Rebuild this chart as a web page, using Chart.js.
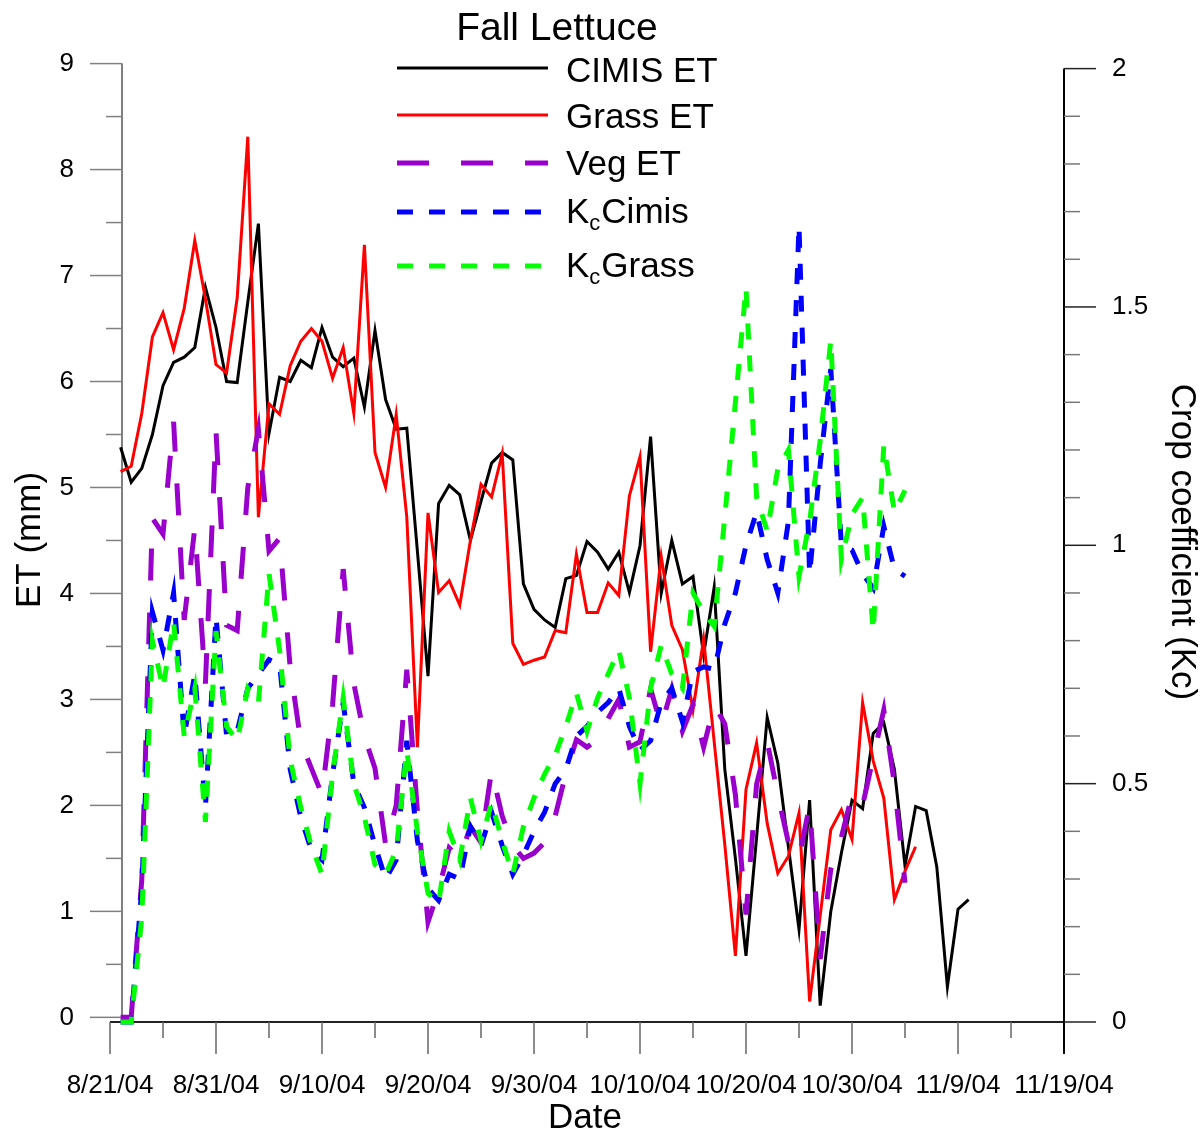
<!DOCTYPE html>
<html><head><meta charset="utf-8">
<script src="https://cdn.jsdelivr.net/npm/chart.js@4.4.1/dist/chart.umd.min.js"></script>
<style>html,body{margin:0;padding:0;background:#fff;}canvas{display:block;}</style>
</head><body>
<canvas id="c" width="1204" height="1135"></canvas>
<script>
const FONT = "'Liberation Sans', Arial, Helvetica, sans-serif";
const chartTitle = 'Fall Lettuce';
const xTitle = 'Date';
const yTitle = 'ET (mm)';
const y1Title = 'Crop coefficient (Kc)';
// x axis: days after 8/21/04
const xTickDays = [0, 10, 20, 30, 40, 50, 60, 70, 80, 90];
const xTickLabels = ['8/21/04', '8/31/04', '9/10/04', '9/20/04', '9/30/04', '10/10/04', '10/20/04', '10/30/04', '11/9/04', '11/19/04'];
const etTicks = [0, 1, 2, 3, 4, 5, 6, 7, 8, 9];
const kcTicks = [0, 0.5, 1, 1.5, 2];
const kcTickLabels = ['0', '0.5', '1', '1.5', '2'];
const firstDay = 1; // first record: 8/22/04, daily records

const cimisET = [5.38, 5.05, 5.18, 5.50, 5.96, 6.18, 6.23, 6.32, 6.89, 6.51,
  6.00, 5.99, 6.75, 7.49, 5.51, 6.04, 6.00, 6.20, 6.13, 6.51,
  6.23, 6.14, 6.22, 5.76, 6.48, 5.83, 5.55, 5.56, 4.40, 3.22,
  4.85, 5.02, 4.93, 4.50, 4.87, 5.23, 5.33, 5.26, 4.09, 3.85,
  3.75, 3.68, 4.14, 4.17, 4.49, 4.39, 4.23, 4.39, 4.01, 4.45,
  5.48, 4.00, 4.50, 4.09, 4.16, 3.42, 4.06, 2.34, 1.50, 0.58,
  1.70, 2.83, 2.40, 1.61, 0.83, 2.05, 0.11, 1.00, 1.55, 2.05,
  1.97, 2.68, 2.78, 2.34, 1.43, 1.99, 1.95, 1.42, 0.29, 1.02, 1.11];
const grassET = [5.15, 5.20, 5.70, 6.42, 6.65, 6.30, 6.69, 7.33, 6.78, 6.16,
  6.08, 6.79, 8.31, 4.72, 5.79, 5.69, 6.15, 6.38, 6.50, 6.38,
  6.03, 6.32, 5.70, 7.29, 5.33, 5.00, 5.69, 4.72, 2.55, 4.76,
  4.01, 4.12, 3.89, 4.50, 5.03, 4.91, 5.32, 3.53, 3.33, 3.37,
  3.40, 3.65, 3.63, 4.37, 3.82, 3.82, 4.10, 3.98, 4.92, 5.29,
  3.45, 4.35, 3.70, 3.47, 2.90, 3.57, 2.60, 1.63, 0.58, 2.15,
  2.59, 1.83, 1.36, 1.52, 1.93, 0.15, 0.96, 1.77, 1.96, 1.68,
  2.97, 2.42, 2.07, 1.11, 1.38, 1.61];
const vegET = [0, 0, 1.30, 4.71, 4.56, 5.62, 3.75, 4.62, 3.15, 5.53,
  3.70, 3.65, 5.00, 5.55, 4.40, 4.52, 3.30, 2.60, 2.35, 2.10,
  2.95, 4.23, 3.15, 2.65, 2.35, 1.63, 2.00, 3.28, 1.95, 0.90,
  1.20, 1.60, 1.50, 1.80, 1.65, 2.33, 1.90, 1.62, 1.50, 1.55,
  1.65, 1.90, 2.30, 2.62, 2.55, 2.62, 2.82, 3.00, 2.55, 2.60,
  3.10, 2.75, 3.10, 2.70, 2.95, 2.55, 2.95, 2.77, 2.10, 0.97,
  2.20, 2.60, 2.10, 1.65, 1.50, 2.00, 0.55, 1.40, 1.70, 2.10,
  2.00, 2.45, 2.90, 2.20, 1.27];
const kcCimis = [0, 0, 0.28, 0.86, 0.78, 0.90, 0.60, 0.73, 0.45, 0.85,
  0.60, 0.61, 0.70, 0.73, 0.76, 0.75, 0.53, 0.43, 0.36, 0.34,
  0.52, 0.67, 0.50, 0.45, 0.37, 0.30, 0.34, 0.59, 0.38, 0.28,
  0.255, 0.31, 0.30, 0.41, 0.37, 0.44, 0.37, 0.31, 0.35, 0.40,
  0.44, 0.50, 0.53, 0.60, 0.62, 0.65, 0.67, 0.70, 0.62, 0.57,
  0.59, 0.67, 0.70, 0.63, 0.735, 0.745, 0.74, 0.835, 0.90, 1.00,
  1.07, 0.97, 0.90, 1.05, 1.67, 0.94, 1.17, 1.37, 1.00, 0.99,
  0.94, 0.91, 1.04, 0.95, 0.935];
const kcGrass = [0, 0, 0.22, 0.80, 0.70, 0.84, 0.60, 0.70, 0.42, 0.82,
  0.62, 0.59, 0.70, 0.67, 0.94, 0.78, 0.55, 0.45, 0.37, 0.31,
  0.52, 0.68, 0.50, 0.43, 0.33, 0.31, 0.36, 0.57, 0.40, 0.27,
  0.25, 0.40, 0.34, 0.47, 0.38, 0.46, 0.38, 0.31, 0.41, 0.47,
  0.52, 0.56, 0.62, 0.69, 0.61, 0.68, 0.73, 0.78, 0.68, 0.50,
  0.70, 0.79, 0.73, 0.70, 0.90, 0.86, 0.83, 1.06, 1.30, 1.54,
  1.10, 1.03, 1.16, 1.20, 0.935, 1.05, 1.22, 1.43, 0.97, 1.065,
  1.10, 0.82, 1.21, 1.07, 1.115];

const toPts = arr => arr.map((v, i) => ({ x: firstDay + i, y: v }));

const series = [
  { label: 'CIMIS ET', data: cimisET, color: '#000000', width: 3, dash: [], axis: 'y', order: 5, legendDash: [] },
  { label: 'Grass ET', data: grassET, color: '#ff0000', width: 3, dash: [], axis: 'y', order: 4, legendDash: [] },
  { label: 'Veg ET', data: vegET, color: '#9900cc', width: 5, dash: [32, 32], axis: 'y', order: 3, legendDash: [32, 32] },
  { label: 'KcCimis', data: kcCimis, color: '#0000ff', width: 5, dash: [16, 16], axis: 'y1', order: 2, legendDash: [16, 16], sub: true },
  { label: 'KcGrass', data: kcGrass, color: '#00ff00', width: 5, dash: [16, 16], axis: 'y1', order: 1, legendDash: [16, 16], sub: true }
];

function line(ctx, x1, y1, x2, y2) { ctx.beginPath(); ctx.moveTo(x1, y1); ctx.lineTo(x2, y2); ctx.stroke(); }

const axesPlugin = {
  id: 'axesPlugin',
  beforeDatasetsDraw(chart) {
    const { ctx, chartArea: ca, scales } = chart;
    const x = scales.x, y = scales.y, y1 = scales.y1;
    ctx.save();
    ctx.lineCap = 'butt';
    // left axis (offset from plot edge)
    const lx = ca.left + 12;
    ctx.strokeStyle = '#808080'; ctx.lineWidth = 2;
    line(ctx, lx, y.getPixelForValue(9), lx, ca.bottom);
    ctx.lineWidth = 1.5;
    etTicks.forEach(v => {
      const p = y.getPixelForValue(v);
      line(ctx, lx - 32, p, lx, p);
      if (v < 9) { const q = y.getPixelForValue(v + 0.5); line(ctx, lx - 16, q, lx, q); }
    });
    // x axis
    ctx.strokeStyle = '#222'; ctx.lineWidth = 2;
    line(ctx, ca.left, ca.bottom, ca.right, ca.bottom);
    ctx.strokeStyle = '#666'; ctx.lineWidth = 1.5;
    xTickDays.forEach(d => {
      const p = x.getPixelForValue(d);
      line(ctx, p, ca.bottom, p, ca.bottom + 32);
      if (d < 90) { const q = x.getPixelForValue(d + 5); line(ctx, q, ca.bottom, q, ca.bottom + 16); }
    });
    // right axis
    ctx.strokeStyle = '#000'; ctx.lineWidth = 2;
    line(ctx, ca.right, y1.getPixelForValue(2), ca.right, ca.bottom + 32);
    for (let k = 0; k <= 20; k++) {
      const p = y1.getPixelForValue(k / 10);
      if (k % 5 === 0) { ctx.strokeStyle = '#222'; ctx.lineWidth = 1.5; line(ctx, ca.right, p, ca.right + 32, p); }
      else { ctx.strokeStyle = '#777'; ctx.lineWidth = 1.5; line(ctx, ca.right, p, ca.right + 16, p); }
    }
    ctx.restore();
  },
  afterDraw(chart) {
    const { ctx } = chart;
    ctx.save();
    ctx.fillStyle = '#000';
    // title
    ctx.font = '39px ' + FONT;
    ctx.textAlign = 'center'; ctx.textBaseline = 'alphabetic';
    ctx.fillText(chartTitle, 557, 40);
    // legend
    const rowsY = [68, 115, 163, 212, 266];
    const baseY = [82, 128, 175, 223, 277];
    series.forEach((s, i) => {
      ctx.strokeStyle = s.color; ctx.lineWidth = s.width; ctx.lineCap = 'butt';
      ctx.setLineDash(s.legendDash);
      line(ctx, 397, rowsY[i], 548, rowsY[i]);
      ctx.setLineDash([]);
      ctx.fillStyle = '#000'; ctx.textAlign = 'left';
      if (s.sub) {
        ctx.font = '35px ' + FONT;
        ctx.fillText('K', 566, baseY[i]);
        const w = ctx.measureText('K').width;
        ctx.font = '22px ' + FONT;
        ctx.fillText('c', 566 + w, baseY[i] + 7);
        const w2 = ctx.measureText('c').width;
        ctx.font = '35px ' + FONT;
        ctx.fillText(s.label.slice(2), 566 + w + w2 + 1, baseY[i]);
      } else {
        ctx.font = '35px ' + FONT;
        ctx.fillText(s.label, 566, baseY[i]);
      }
    });
    // axis titles
    ctx.font = '35px ' + FONT;
    ctx.textAlign = 'center'; ctx.textBaseline = 'middle';
    ctx.fillText(xTitle, 585, 1118);
    ctx.save(); ctx.translate(30, 540); ctx.rotate(-Math.PI / 2); ctx.fillText(yTitle, 0, 0); ctx.restore();
    ctx.save(); ctx.translate(1182, 542); ctx.rotate(Math.PI / 2); ctx.fillText(y1Title, 0, 0); ctx.restore();
    ctx.restore();
  }
};

new Chart(document.getElementById('c'), {
  type: 'line',
  data: {
    datasets: series.map(s => ({
      label: s.label, data: toPts(s.data), yAxisID: s.axis, order: s.order,
      borderColor: s.color, backgroundColor: s.color, borderWidth: s.width,
      borderDash: s.dash, borderCapStyle: 'butt', borderJoinStyle: 'miter',
      pointRadius: 0, tension: 0, fill: false, clip: false
    }))
  },
  options: {
    responsive: false, animation: false, events: [],
    layout: { padding: { top: 62, left: 0, right: 0, bottom: 0 } },
    plugins: { legend: { display: false }, title: { display: false }, tooltip: { enabled: false } },
    scales: {
      x: {
        type: 'linear', position: 'bottom', min: 0, max: 90,
        afterFit: s => { s.height = 113; },
        afterBuildTicks: s => { s.ticks = xTickDays.map(v => ({ value: v })); },
        ticks: { autoSkip: false, maxRotation: 0, minRotation: 0, padding: 48, color: '#000',
          font: { family: FONT, size: 26 },
          callback: v => { const i = xTickDays.indexOf(v); return i >= 0 ? xTickLabels[i] : ''; } },
        grid: { display: false, drawOnChartArea: false, drawTicks: false }, border: { display: false }
      },
      y: {
        type: 'linear', position: 'left', min: -0.044, max: 9,
        afterFit: s => { s.width = 110; },
        afterBuildTicks: s => { s.ticks = etTicks.map(v => ({ value: v })); },
        ticks: { padding: 36, color: '#000', font: { family: FONT, size: 26 }, callback: v => String(v) },
        grid: { display: false, drawOnChartArea: false, drawTicks: false }, border: { display: false }
      },
      y1: {
        type: 'linear', position: 'right', min: 0, max: 2.0105,
        afterFit: s => { s.width = 140; },
        afterBuildTicks: s => { s.ticks = kcTicks.map(v => ({ value: v })); },
        ticks: { padding: 48, color: '#000', font: { family: FONT, size: 26 },
          callback: v => { const i = kcTicks.indexOf(v); return i >= 0 ? kcTickLabels[i] : ''; } },
        grid: { display: false, drawOnChartArea: false, drawTicks: false }, border: { display: false }
      }
    }
  },
  plugins: [axesPlugin]
});
</script>
</body></html>
